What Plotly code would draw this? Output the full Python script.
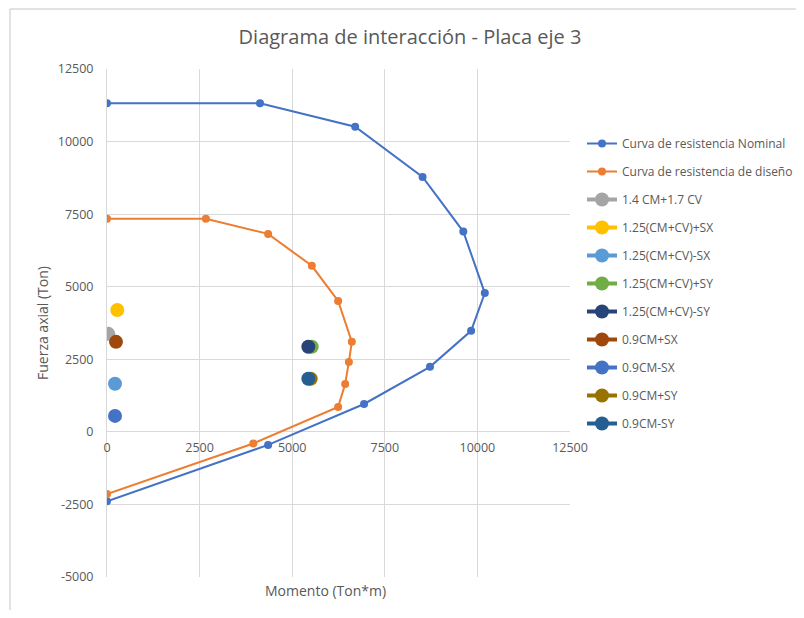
import plotly.graph_objects as go

# Interaction curves
nominal_M = [0, 4130, 6700, 8520, 9620, 10200, 9830, 8720, 6940, 4350, 0]
nominal_P = [11320, 11320, 10510, 8780, 6900, 4780, 3480, 2240, 960, -450, -2390]

design_M = [0, 2670, 4350, 5530, 6240, 6610, 6530, 6430, 6240, 3950, 0]
design_P = [7340, 7340, 6820, 5720, 4510, 3100, 2410, 1650, 860, -400, -2140]

# Load combinations
combo_names = ["1.4 CM+1.7 CV", "1.25(CM+CV)+SX", "1.25(CM+CV)-SX", "1.25(CM+CV)+SY",
               "1.25(CM+CV)-SY", "0.9CM+SX", "0.9CM-SX", "0.9CM+SY", "0.9CM-SY"]
combo_M = [35, 278, 216, 5527, 5435, 243, 216, 5500, 5435]
combo_P = [3376, 4200, 1655, 2930, 2930, 3100, 550, 1830, 1830]
combo_colors = ["#A5A5A5", "#FFC000", "#5B9BD5", "#70AD47", "#264478",
                "#9E480E", "#4472C4", "#997300", "#255E91"]

x_ticks = [0, 2500, 5000, 7500, 10000, 12500]
y_ticks = [-5000, -2500, 0, 2500, 5000, 7500, 10000, 12500]

FONT = "Open Sans"
GRAY = "#595959"

fig = go.Figure()
fig.add_trace(go.Scatter(x=nominal_M, y=nominal_P, mode="lines+markers",
                         name="Curva de resistencia Nominal", legendgroup="g0",
                         line=dict(color="#4472C4", width=2),
                         marker=dict(color="#4472C4", size=8)))
fig.add_trace(go.Scatter(x=design_M, y=design_P, mode="lines+markers",
                         name="Curva de resistencia de diseño", legendgroup="g1",
                         line=dict(color="#ED7D31", width=2),
                         marker=dict(color="#ED7D31", size=8)))
for i, (n, m, p, c) in enumerate(zip(combo_names, combo_M, combo_P, combo_colors)):
    fig.add_trace(go.Scatter(x=[m], y=[p], mode="lines+markers", name=n,
                             legendgroup=f"c{i}",
                             line=dict(color=c, width=4),
                             marker=dict(color=c, size=14)))

# page body has an 8px margin; work in reference pixel coords and subtract it
OFF = 8
W, H = 804 - 2 * OFF, 618 - 2 * OFF
L, R, T, B = 107 - OFF, 570 - OFF, 69 - OFF, 577 - OFF
pw, ph = R - L, B - T

def px(x):
    return (x - OFF - L) / pw

def py(y):
    return (B - (y - OFF)) / ph

border = dict(color="#D9D9D9", width=1.5)

fig.update_layout(
    width=W, height=H,
    margin=dict(l=L, r=W - R, t=T, b=H - B, autoexpand=False),
    paper_bgcolor="white", plot_bgcolor="white",
    font=dict(family=FONT, color=GRAY, size=12),
    title=dict(text="Diagrama de interacción - Placa eje 3", x=(410 - OFF) / W, xanchor="center",
               y=1 - (37 - OFF) / H, yanchor="middle",
               font=dict(size=20, color=GRAY, family=FONT)),
    showlegend=True,
    legend=dict(x=px(582), xanchor="left", y=py(129), yanchor="top",
                font=dict(size=12, color=GRAY, family=FONT),
                tracegroupgap=9, itemwidth=30, bgcolor="rgba(0,0,0,0)"),
    xaxis=dict(range=[0, 12500], tickvals=x_ticks, ticktext=[str(v) for v in x_ticks],
               showgrid=True, gridcolor="#D9D9D9", automargin=False,
               zeroline=False, showline=False, anchor="free", position=py(432),
               ticklabelstandoff=6, tickfont=dict(size=12.5, color=GRAY)),
    yaxis=dict(range=[-5000, 12500], tickvals=y_ticks, ticktext=[str(v) for v in y_ticks],
               showgrid=True, gridcolor="#D9D9D9", automargin=False,
               zeroline=True, zerolinecolor="#D9D9D9", zerolinewidth=1,
               showline=True, linecolor="#D9D9D9", ticklabelstandoff=10,
               tickfont=dict(size=12.5, color=GRAY)),
    shapes=[
        dict(type="line", xref="paper", yref="paper",
             x0=px(10), x1=px(10), y0=py(618), y1=py(9), line=border, layer="below"),
        dict(type="line", xref="paper", yref="paper",
             x0=px(10), x1=px(804), y0=py(9), y1=py(9), line=border, layer="below"),
    ],
    annotations=[
        dict(text="Momento (Ton*m)", xref="paper", yref="paper", x=px(325), y=py(590),
             showarrow=False, xanchor="center", yanchor="middle",
             font=dict(size=14, color=GRAY, family=FONT)),
        dict(text="Fuerza axial (Ton)", xref="paper", yref="paper", x=px(42), y=py(323),
             showarrow=False, xanchor="center", yanchor="middle", textangle=-90,
             font=dict(size=14, color=GRAY, family=FONT)),
    ],
)

fig.write_html("out.html")
